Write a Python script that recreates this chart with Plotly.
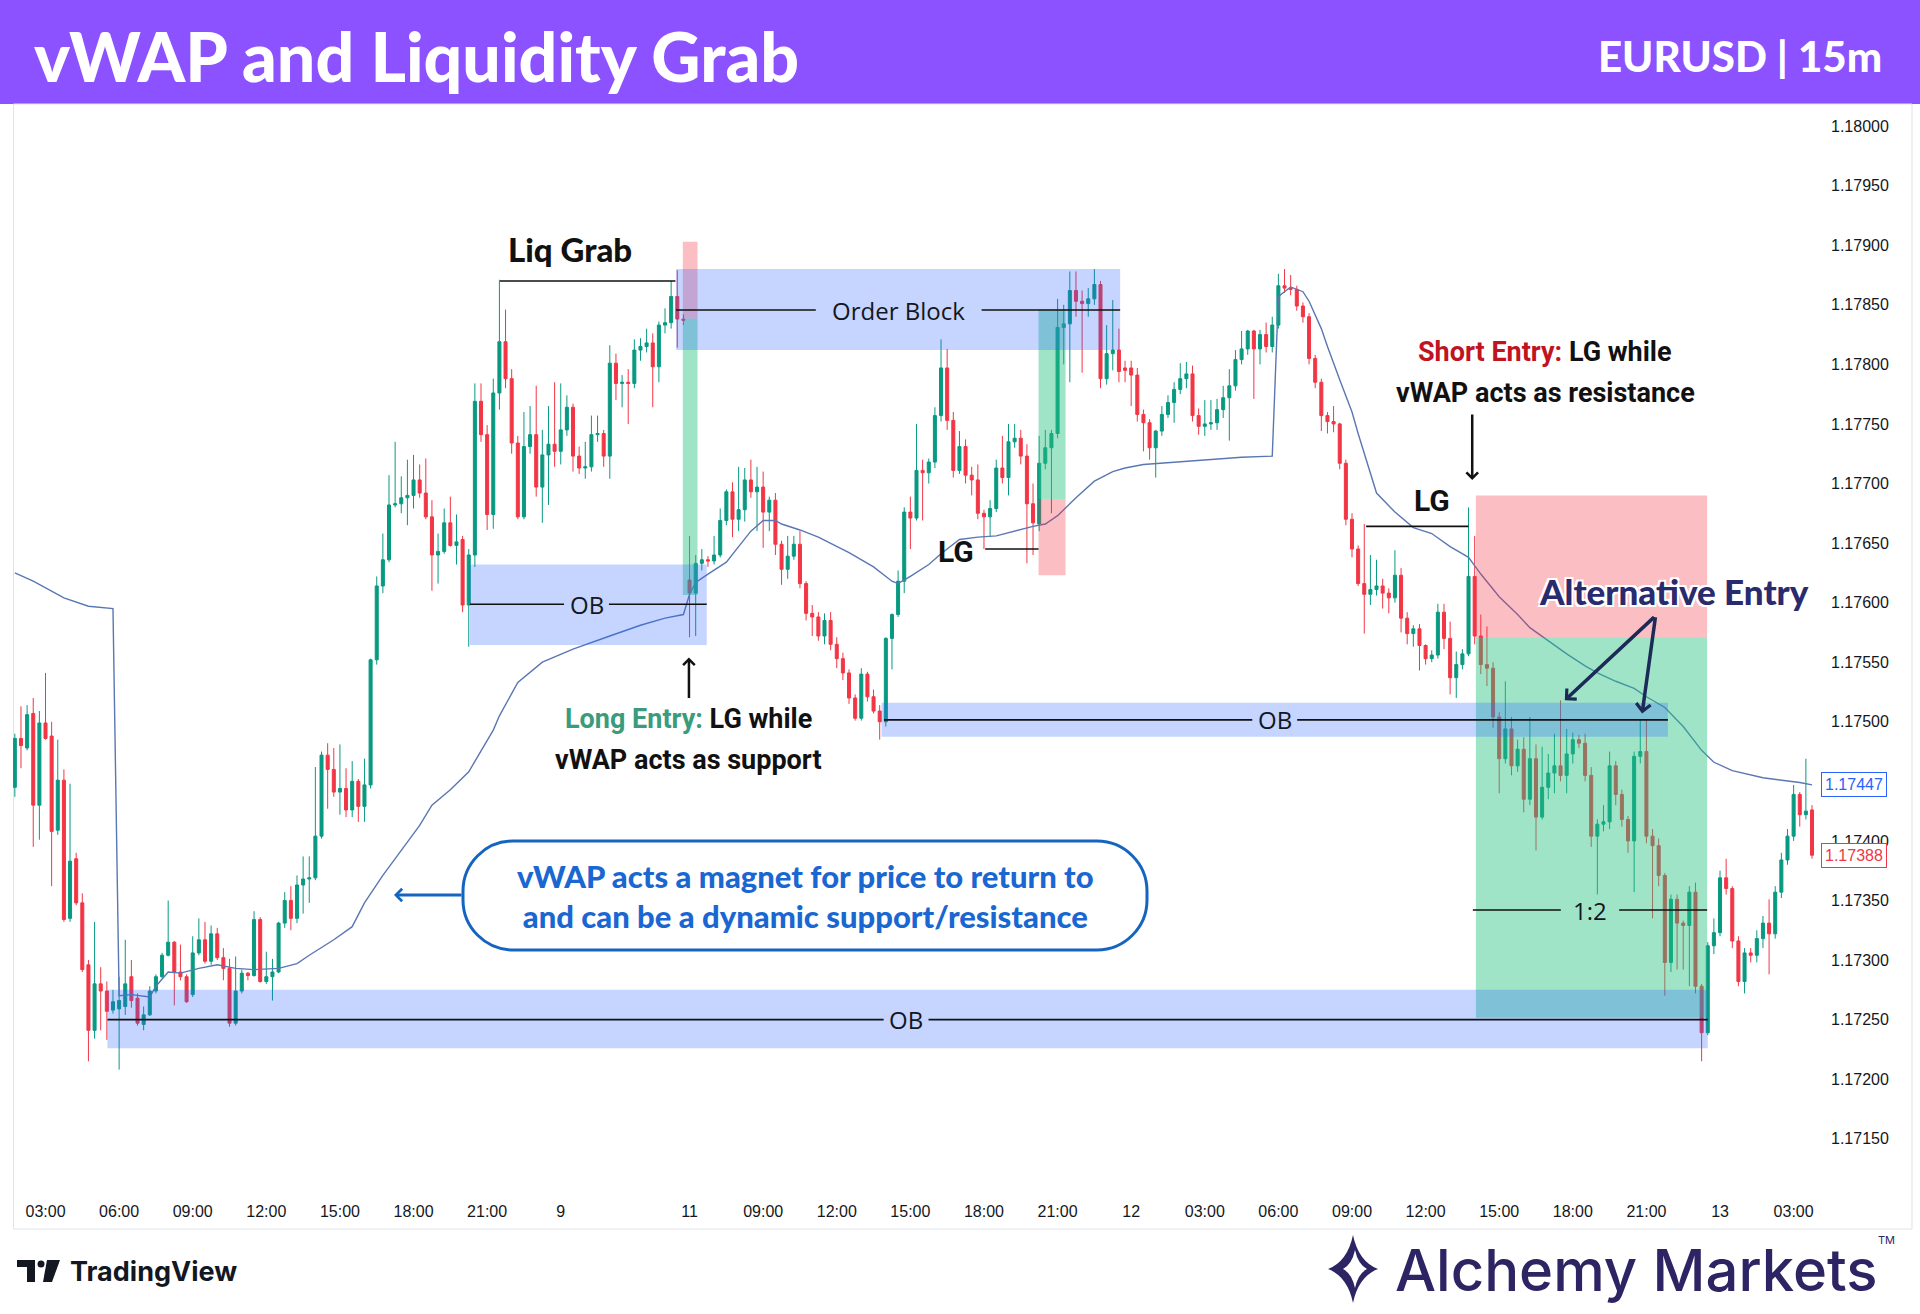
import plotly.graph_objects as go

# ---------------------------------------------------------------- data
# x = index of the 15-minute bar (0 = first "03:00" bar)
bars = list(range(-5, 289))

open_ = [
    1.17445, 1.17486, 1.17478, 1.17507, 1.17430, 1.17499, 1.17488, 1.17409, 1.17451, 1.17335,
    1.17385, 1.17348, 1.17296, 1.17241, 1.17280, 1.17274, 1.17258, 1.17259, 1.17261, 1.17286,
    1.17268, 1.17246, 1.17254, 1.17274, 1.17286, 1.17304, 1.17315, 1.17290, 1.17286, 1.17271,
    1.17306, 1.17317, 1.17299, 1.17322, 1.17302, 1.17293, 1.17247, 1.17274, 1.17289, 1.17287,
    1.17334, 1.17282, 1.17286, 1.17290, 1.17331, 1.17350, 1.17335, 1.17363, 1.17368, 1.17369,
    1.17404, 1.17472, 1.17460, 1.17441, 1.17444, 1.17426, 1.17450, 1.17429, 1.17447, 1.17552,
    1.17614, 1.17636, 1.17682, 1.17683, 1.17688, 1.17690, 1.17703, 1.17692, 1.17672, 1.17640,
    1.17643, 1.17667, 1.17648, 1.17653, 1.17598, 1.17640, 1.17769, 1.17741, 1.17674, 1.17776,
    1.17819, 1.17788, 1.17734, 1.17672, 1.17731, 1.17741, 1.17697, 1.17724, 1.17733, 1.17727,
    1.17745, 1.17764, 1.17723, 1.17713, 1.17714, 1.17741, 1.17742, 1.17723, 1.17801, 1.17784,
    1.17785, 1.17784, 1.17812, 1.17815, 1.17818, 1.17798, 1.17833, 1.17835, 1.17857, 1.17838,
    1.17619, 1.17608, 1.17633, 1.17636, 1.17635, 1.17640, 1.17669, 1.17693, 1.17670, 1.17678,
    1.17703, 1.17693, 1.17697, 1.17676, 1.17686, 1.17649, 1.17628, 1.17639, 1.17649, 1.17616,
    1.17591, 1.17588, 1.17572, 1.17585, 1.17565, 1.17553, 1.17541, 1.17520, 1.17503, 1.17540,
    1.17521, 1.17509, 1.17500, 1.17570, 1.17590, 1.17618, 1.17676, 1.17671, 1.17711, 1.17709,
    1.17718, 1.17757, 1.17797, 1.17753, 1.17711, 1.17731, 1.17707, 1.17703, 1.17675, 1.17672,
    1.17679, 1.17713, 1.17705, 1.17735, 1.17738, 1.17723, 1.17683, 1.17666, 1.17717, 1.17730,
    1.17742, 1.17831, 1.17834, 1.17862, 1.17853, 1.17851, 1.17855, 1.17867, 1.17788, 1.17809,
    1.17812, 1.17797, 1.17797, 1.17791, 1.17758, 1.17751, 1.17730, 1.17744, 1.17758, 1.17768,
    1.17779, 1.17788, 1.17792, 1.17757, 1.17748, 1.17750, 1.17751, 1.17762, 1.17772, 1.17782,
    1.17804, 1.17813, 1.17828, 1.17813, 1.17825, 1.17815, 1.17833, 1.17866, 1.17864, 1.17863,
    1.17849, 1.17840, 1.17805, 1.17785, 1.17757, 1.17752, 1.17750, 1.17717, 1.17670, 1.17645,
    1.17616, 1.17607, 1.17611, 1.17614, 1.17608, 1.17604, 1.17623, 1.17587, 1.17574, 1.17578,
    1.17564, 1.17553, 1.17556, 1.17592, 1.17570, 1.17537, 1.17548, 1.17557, 1.17622, 1.17572,
    1.17548, 1.17545, 1.17504, 1.17469, 1.17494, 1.17463, 1.17477, 1.17435, 1.17469, 1.17420,
    1.17445, 1.17457, 1.17463, 1.17455, 1.17473, 1.17485, 1.17482, 1.17455, 1.17404, 1.17414,
    1.17416, 1.17463, 1.17439, 1.17418, 1.17400, 1.17471, 1.17475, 1.17404, 1.17396, 1.17371,
    1.17298, 1.17351, 1.17331, 1.17329, 1.17357, 1.17278, 1.17239, 1.17312, 1.17323, 1.17369,
    1.17360, 1.17316, 1.17282, 1.17306, 1.17304, 1.17318, 1.17331, 1.17322, 1.17357, 1.17384,
    1.17404, 1.17439, 1.17422, 1.17426,
]

high = [
    1.17490, 1.17513, 1.17514, 1.17520, 1.17509, 1.17541, 1.17500, 1.17485, 1.17460, 1.17448,
    1.17390, 1.17356, 1.17300, 1.17332, 1.17294, 1.17282, 1.17275, 1.17286, 1.17317, 1.17300,
    1.17272, 1.17261, 1.17278, 1.17288, 1.17306, 1.17350, 1.17316, 1.17313, 1.17288, 1.17320,
    1.17335, 1.17332, 1.17329, 1.17327, 1.17310, 1.17301, 1.17303, 1.17292, 1.17290, 1.17341,
    1.17336, 1.17307, 1.17301, 1.17332, 1.17357, 1.17362, 1.17371, 1.17387, 1.17387, 1.17462,
    1.17475, 1.17482, 1.17478, 1.17481, 1.17461, 1.17467, 1.17452, 1.17469, 1.17553, 1.17622,
    1.17658, 1.17707, 1.17735, 1.17706, 1.17720, 1.17724, 1.17716, 1.17721, 1.17686, 1.17658,
    1.17679, 1.17689, 1.17674, 1.17656, 1.17645, 1.17784, 1.17784, 1.17749, 1.17788, 1.17871,
    1.17846, 1.17796, 1.17740, 1.17760, 1.17765, 1.17782, 1.17745, 1.17765, 1.17785, 1.17784,
    1.17774, 1.17767, 1.17731, 1.17735, 1.17757, 1.17757, 1.17745, 1.17816, 1.17809, 1.17791,
    1.17796, 1.17821, 1.17822, 1.17830, 1.17826, 1.17836, 1.17847, 1.17870, 1.17879, 1.17842,
    1.17656, 1.17640, 1.17645, 1.17639, 1.17656, 1.17679, 1.17695, 1.17701, 1.17714, 1.17713,
    1.17720, 1.17714, 1.17710, 1.17689, 1.17692, 1.17652, 1.17656, 1.17656, 1.17660, 1.17618,
    1.17598, 1.17592, 1.17591, 1.17592, 1.17571, 1.17558, 1.17544, 1.17523, 1.17545, 1.17542,
    1.17527, 1.17514, 1.17571, 1.17591, 1.17627, 1.17680, 1.17689, 1.17750, 1.17720, 1.17721,
    1.17764, 1.17821, 1.17813, 1.17760, 1.17744, 1.17737, 1.17714, 1.17716, 1.17678, 1.17686,
    1.17720, 1.17740, 1.17750, 1.17750, 1.17745, 1.17733, 1.17700, 1.17740, 1.17745, 1.17745,
    1.17855, 1.17850, 1.17878, 1.17878, 1.17862, 1.17864, 1.17880, 1.17870, 1.17833, 1.17854,
    1.17830, 1.17803, 1.17803, 1.17797, 1.17762, 1.17754, 1.17745, 1.17765, 1.17774, 1.17785,
    1.17801, 1.17802, 1.17799, 1.17763, 1.17770, 1.17770, 1.17771, 1.17782, 1.17796, 1.17812,
    1.17828, 1.17829, 1.17829, 1.17829, 1.17835, 1.17840, 1.17876, 1.17880, 1.17875, 1.17866,
    1.17852, 1.17843, 1.17808, 1.17788, 1.17760, 1.17765, 1.17751, 1.17720, 1.17675, 1.17648,
    1.17666, 1.17640, 1.17636, 1.17620, 1.17612, 1.17644, 1.17629, 1.17592, 1.17581, 1.17582,
    1.17565, 1.17560, 1.17599, 1.17599, 1.17584, 1.17559, 1.17561, 1.17680, 1.17656, 1.17590,
    1.17580, 1.17550, 1.17508, 1.17534, 1.17504, 1.17485, 1.17487, 1.17504, 1.17481, 1.17479,
    1.17473, 1.17490, 1.17518, 1.17494, 1.17491, 1.17489, 1.17490, 1.17462, 1.17418, 1.17430,
    1.17475, 1.17467, 1.17443, 1.17421, 1.17475, 1.17502, 1.17502, 1.17410, 1.17402, 1.17373,
    1.17355, 1.17355, 1.17333, 1.17362, 1.17365, 1.17280, 1.17315, 1.17335, 1.17375, 1.17385,
    1.17362, 1.17320, 1.17310, 1.17310, 1.17325, 1.17337, 1.17351, 1.17362, 1.17390, 1.17410,
    1.17447, 1.17441, 1.17469, 1.17430,
]

low = [
    1.17437, 1.17461, 1.17476, 1.17395, 1.17401, 1.17485, 1.17362, 1.17405, 1.17332, 1.17332,
    1.17346, 1.17290, 1.17215, 1.17234, 1.17241, 1.17233, 1.17255, 1.17208, 1.17254, 1.17260,
    1.17245, 1.17241, 1.17253, 1.17272, 1.17285, 1.17303, 1.17262, 1.17283, 1.17264, 1.17269,
    1.17304, 1.17297, 1.17296, 1.17300, 1.17283, 1.17244, 1.17245, 1.17272, 1.17283, 1.17286,
    1.17281, 1.17280, 1.17266, 1.17289, 1.17327, 1.17325, 1.17331, 1.17339, 1.17348, 1.17367,
    1.17402, 1.17427, 1.17437, 1.17422, 1.17420, 1.17420, 1.17416, 1.17416, 1.17444, 1.17548,
    1.17608, 1.17634, 1.17680, 1.17675, 1.17665, 1.17679, 1.17688, 1.17670, 1.17610, 1.17616,
    1.17641, 1.17647, 1.17632, 1.17592, 1.17563, 1.17630, 1.17735, 1.17661, 1.17662, 1.17762,
    1.17780, 1.17725, 1.17670, 1.17670, 1.17725, 1.17689, 1.17667, 1.17682, 1.17714, 1.17716,
    1.17740, 1.17710, 1.17708, 1.17704, 1.17710, 1.17735, 1.17714, 1.17704, 1.17770, 1.17764,
    1.17750, 1.17780, 1.17803, 1.17810, 1.17764, 1.17785, 1.17826, 1.17830, 1.17814, 1.17833,
    1.17571, 1.17572, 1.17627, 1.17630, 1.17632, 1.17638, 1.17665, 1.17655, 1.17660, 1.17668,
    1.17688, 1.17660, 1.17646, 1.17660, 1.17640, 1.17615, 1.17620, 1.17636, 1.17612, 1.17585,
    1.17572, 1.17568, 1.17565, 1.17560, 1.17545, 1.17535, 1.17515, 1.17501, 1.17501, 1.17517,
    1.17507, 1.17485, 1.17496, 1.17544, 1.17588, 1.17608, 1.17645, 1.17669, 1.17669, 1.17700,
    1.17713, 1.17752, 1.17745, 1.17705, 1.17708, 1.17700, 1.17690, 1.17670, 1.17645, 1.17656,
    1.17676, 1.17700, 1.17690, 1.17730, 1.17716, 1.17633, 1.17640, 1.17660, 1.17712, 1.17675,
    1.17738, 1.17800, 1.17785, 1.17840, 1.17793, 1.17840, 1.17850, 1.17780, 1.17783, 1.17795,
    1.17785, 1.17785, 1.17765, 1.17752, 1.17727, 1.17720, 1.17705, 1.17740, 1.17755, 1.17751,
    1.17775, 1.17780, 1.17752, 1.17741, 1.17740, 1.17745, 1.17745, 1.17755, 1.17736, 1.17778,
    1.17800, 1.17808, 1.17771, 1.17800, 1.17810, 1.17810, 1.17830, 1.17860, 1.17858, 1.17845,
    1.17835, 1.17800, 1.17780, 1.17744, 1.17742, 1.17743, 1.17712, 1.17665, 1.17638, 1.17614,
    1.17574, 1.17598, 1.17606, 1.17595, 1.17591, 1.17600, 1.17575, 1.17565, 1.17563, 1.17543,
    1.17548, 1.17550, 1.17553, 1.17561, 1.17523, 1.17520, 1.17544, 1.17555, 1.17565, 1.17540,
    1.17530, 1.17495, 1.17440, 1.17465, 1.17455, 1.17458, 1.17424, 1.17430, 1.17392, 1.17418,
    1.17435, 1.17440, 1.17450, 1.17440, 1.17465, 1.17478, 1.17450, 1.17395, 1.17355, 1.17408,
    1.17410, 1.17430, 1.17412, 1.17390, 1.17357, 1.17465, 1.17398, 1.17335, 1.17362, 1.17270,
    1.17290, 1.17292, 1.17292, 1.17278, 1.17272, 1.17215, 1.17237, 1.17305, 1.17320, 1.17355,
    1.17310, 1.17278, 1.17272, 1.17298, 1.17298, 1.17310, 1.17288, 1.17318, 1.17352, 1.17380,
    1.17400, 1.17412, 1.17418, 1.17385,
]

close = [
    1.17486, 1.17480, 1.17506, 1.17430, 1.17499, 1.17486, 1.17408, 1.17451, 1.17334, 1.17383,
    1.17348, 1.17292, 1.17241, 1.17280, 1.17274, 1.17257, 1.17265, 1.17266, 1.17280, 1.17266,
    1.17247, 1.17254, 1.17274, 1.17286, 1.17304, 1.17315, 1.17290, 1.17286, 1.17265, 1.17306,
    1.17317, 1.17299, 1.17322, 1.17302, 1.17293, 1.17247, 1.17274, 1.17289, 1.17287, 1.17334,
    1.17282, 1.17286, 1.17290, 1.17331, 1.17350, 1.17335, 1.17363, 1.17368, 1.17369, 1.17404,
    1.17472, 1.17460, 1.17441, 1.17444, 1.17426, 1.17450, 1.17429, 1.17447, 1.17552, 1.17614,
    1.17636, 1.17682, 1.17683, 1.17688, 1.17690, 1.17703, 1.17692, 1.17672, 1.17640, 1.17643,
    1.17667, 1.17648, 1.17651, 1.17598, 1.17640, 1.17769, 1.17741, 1.17674, 1.17776, 1.17819,
    1.17788, 1.17734, 1.17672, 1.17731, 1.17741, 1.17697, 1.17724, 1.17733, 1.17727, 1.17745,
    1.17764, 1.17723, 1.17713, 1.17714, 1.17741, 1.17742, 1.17723, 1.17801, 1.17784, 1.17785,
    1.17784, 1.17812, 1.17815, 1.17818, 1.17798, 1.17833, 1.17835, 1.17857, 1.17838, 1.17837,
    1.17608, 1.17633, 1.17636, 1.17635, 1.17640, 1.17669, 1.17693, 1.17670, 1.17678, 1.17703,
    1.17693, 1.17697, 1.17676, 1.17686, 1.17649, 1.17628, 1.17639, 1.17649, 1.17616, 1.17591,
    1.17588, 1.17572, 1.17585, 1.17565, 1.17553, 1.17541, 1.17520, 1.17503, 1.17540, 1.17521,
    1.17509, 1.17500, 1.17570, 1.17590, 1.17618, 1.17676, 1.17671, 1.17711, 1.17709, 1.17718,
    1.17757, 1.17797, 1.17753, 1.17711, 1.17731, 1.17707, 1.17703, 1.17675, 1.17672, 1.17679,
    1.17713, 1.17705, 1.17735, 1.17738, 1.17723, 1.17683, 1.17667, 1.17717, 1.17730, 1.17742,
    1.17831, 1.17834, 1.17862, 1.17853, 1.17851, 1.17855, 1.17867, 1.17788, 1.17809, 1.17812,
    1.17794, 1.17795, 1.17791, 1.17758, 1.17751, 1.17730, 1.17744, 1.17758, 1.17768, 1.17779,
    1.17788, 1.17792, 1.17757, 1.17748, 1.17750, 1.17751, 1.17762, 1.17772, 1.17782, 1.17804,
    1.17813, 1.17828, 1.17813, 1.17825, 1.17815, 1.17833, 1.17866, 1.17864, 1.17863, 1.17849,
    1.17840, 1.17805, 1.17785, 1.17757, 1.17752, 1.17750, 1.17717, 1.17670, 1.17645, 1.17616,
    1.17607, 1.17611, 1.17614, 1.17608, 1.17604, 1.17623, 1.17587, 1.17574, 1.17578, 1.17564,
    1.17553, 1.17556, 1.17592, 1.17570, 1.17537, 1.17548, 1.17557, 1.17622, 1.17572, 1.17548,
    1.17545, 1.17504, 1.17469, 1.17494, 1.17463, 1.17477, 1.17435, 1.17469, 1.17420, 1.17445,
    1.17457, 1.17463, 1.17455, 1.17473, 1.17485, 1.17482, 1.17455, 1.17404, 1.17414, 1.17416,
    1.17463, 1.17439, 1.17418, 1.17400, 1.17471, 1.17475, 1.17404, 1.17396, 1.17371, 1.17298,
    1.17351, 1.17331, 1.17329, 1.17357, 1.17278, 1.17239, 1.17312, 1.17323, 1.17369, 1.17360,
    1.17316, 1.17282, 1.17306, 1.17304, 1.17318, 1.17331, 1.17322, 1.17357, 1.17384, 1.17404,
    1.17439, 1.17422, 1.17425, 1.17388,
]

# session-anchored vWAP, read at selected bars
vwap_bar = [-5, -2, 3, 7, 11, 12, 14, 17, 18, 20, 22, 25, 28, 31, 34, 38, 41, 43, 47, 50,
            52, 55, 58, 61, 63, 66, 69, 71, 73, 74, 77, 81, 86, 92, 97, 101, 104, 105, 106, 108,
            111, 113, 115, 117, 119, 120, 123, 126, 131, 135, 138, 139, 141, 144, 146, 149, 152, 155, 158, 161,
            163, 165, 168, 171, 174, 176, 179, 184, 190, 195, 200, 201, 202, 203, 205, 206, 208, 209, 211, 213,
            214, 216, 217, 220, 223, 226, 229, 232, 234, 237, 240, 242, 245, 248, 251, 253, 256, 259, 261, 264,
            267, 270, 272, 275, 280, 286, 288]
vwap_val = [1.17625, 1.17618, 1.17604, 1.17597, 1.17595, 1.17270, 1.17271, 1.17269, 1.17278, 1.17290,
            1.17289, 1.17293, 1.17296, 1.17293, 1.17292, 1.17293, 1.17297, 1.17304, 1.17317, 1.17328,
            1.17348, 1.17371, 1.17392, 1.17413, 1.17430, 1.17443, 1.17458, 1.17476, 1.17493, 1.17505,
            1.17533, 1.17550, 1.17561, 1.17572, 1.17581, 1.17587, 1.17590, 1.17607, 1.17617, 1.17624,
            1.17634, 1.17647, 1.17660, 1.17669, 1.17669, 1.17666, 1.17661, 1.17655, 1.17642, 1.17630,
            1.17618, 1.17616, 1.17622, 1.17632, 1.17641, 1.17653, 1.17655, 1.17656, 1.17660, 1.17664,
            1.17666, 1.17673, 1.17688, 1.17702, 1.17710, 1.17713, 1.17716, 1.17718, 1.17720, 1.17722,
            1.17723, 1.17857, 1.17861, 1.17865, 1.17861, 1.17853, 1.17830, 1.17815, 1.17787, 1.17760,
            1.17742, 1.17709, 1.17692, 1.17676, 1.17663, 1.17658, 1.17647, 1.17638, 1.17624, 1.17605,
            1.17590, 1.17579, 1.17568, 1.17557, 1.17547, 1.17541, 1.17534, 1.17528, 1.17521, 1.17512,
            1.17496, 1.17476, 1.17466, 1.17459, 1.17453, 1.17449, 1.17447]

tick_bars = [0, 12, 24, 36, 48, 60, 72, 84, 105, 117, 129, 141, 153, 165, 177,
             189, 201, 213, 225, 237, 249, 261, 273, 285]
tick_text = ["03:00", "06:00", "09:00", "12:00", "15:00", "18:00", "21:00", "9", "11",
             "09:00", "12:00", "15:00", "18:00", "21:00", "12", "03:00", "06:00", "09:00",
             "12:00", "15:00", "18:00", "21:00", "13", "03:00"]
# 1.17450 sits under the vWAP price marker, so it is not shown on the scale
price_ticks = [1.1715, 1.1720, 1.1725, 1.1730, 1.1735, 1.1740, 1.1750, 1.1755,
               1.1760, 1.1765, 1.1770, 1.1775, 1.1780, 1.1785, 1.1790, 1.1795, 1.1800]
last_vwap = 1.17447
last_close = 1.17388

# drawn zones: (bar from, bar to, price low, price high)
ob_zones = [(69.2, 107.8, 1.175645, 1.17632), (102.8, 175.2, 1.17812, 1.17880),
            (136.3, 264.5, 1.174875, 1.17516), (10.1, 271.0, 1.17226, 1.17275)]
risk_zones = [(103.9, 106.3, 1.178385, 1.17903), (161.9, 166.3, 1.17623, 1.17687),
              (233.2, 270.9, 1.17571, 1.17690)]
reward_zones = [(103.9, 106.3, 1.176065, 1.178385), (161.9, 166.3, 1.17687, 1.17846),
                (233.2, 270.9, 1.172515, 1.17571)]
# drawn levels: (bar from, bar to, price, label, label bar)
levels = [(74.1, 102.7, 1.17870, None, None),
          (102.8, 175.2, 1.178456, "Order Block", 139.1),
          (69.2, 107.8, 1.175986, "OB", 88.2),
          (136.7, 264.5, 1.175016, "OB", 200.4),
          (10.1, 271.0, 1.17250, "OB", 140.3),
          (232.7, 270.9, 1.17342, "1:2", 251.8),
          (153.2, 161.9, 1.17645, None, None),
          (215.3, 232.0, 1.17664, None, None)]

# ---------------------------------------------------------------- layout helpers
W, H = 1920, 1314
ML, MR, MT, MB = 13, 100, 104, 122
PW, PH = W - ML - MR, H - MT - MB
X0, X1 = -5.3, 289.3
BAR_PX = PW / (X1 - X0)


def px(x):
    return (x - ML) / PW


def py(y):
    return (H - MB - y) / PH


def path(points, close_it=True):
    s = "M " + " L ".join(f"{px(x):.5f},{py(y):.5f}" for x, y in points)
    return s + (" Z" if close_it else "")


UP, DOWN = "#089981", "#f23645"
INK = "#131722"
OB_FILL = "rgba(41,98,255,0.27)"
RISK_FILL = "rgba(242,54,69,0.32)"
RW_FILL = "rgba(38,194,129,0.44)"
LABEL_FONT = dict(family="Open Sans", size=24, color=INK)

fig = go.Figure()
fig.add_trace(go.Candlestick(
    x=bars, open=open_, high=high, low=low, close=close,
    increasing=dict(line=dict(color=UP, width=1), fillcolor=UP),
    decreasing=dict(line=dict(color=DOWN, width=1), fillcolor=DOWN),
    whiskerwidth=0, showlegend=False, hoverinfo="skip"))
fig.add_trace(go.Scatter(x=vwap_bar, y=vwap_val, mode="lines",
                         line=dict(color="#5a77b3", width=1.4),
                         showlegend=False, hoverinfo="skip"))

shapes = []
for x0, x1, y0, y1 in reward_zones:
    shapes.append(dict(type="rect", xref="x", yref="y", x0=x0, x1=x1, y0=y0, y1=y1,
                       fillcolor=RW_FILL, line=dict(width=0)))
for x0, x1, y0, y1 in risk_zones:
    shapes.append(dict(type="rect", xref="x", yref="y", x0=x0, x1=x1, y0=y0, y1=y1,
                       fillcolor=RISK_FILL, line=dict(width=0)))
for x0, x1, y0, y1 in ob_zones:
    shapes.append(dict(type="rect", xref="x", yref="y", x0=x0, x1=x1, y0=y0, y1=y1,
                       fillcolor=OB_FILL, line=dict(width=0)))

ann = []
for x0, x1, yv, label, lx in levels:
    segs = [(x0, x1)]
    if label:
        half_gap = (len(label) * 0.56 * LABEL_FONT["size"] / 2 + 9) / BAR_PX
        segs = [(x0, lx - half_gap), (lx + half_gap, x1)]
        ann.append(dict(x=lx, y=yv, xref="x", yref="y", text=label, showarrow=False,
                        font=LABEL_FONT, yanchor="middle"))
    for a, b in segs:
        shapes.append(dict(type="line", xref="x", yref="y", x0=a, x1=b, y0=yv, y1=yv,
                           line=dict(color="#111111", width=1.6)))

# header band
shapes.append(dict(type="rect", xref="paper", yref="paper", x0=px(-2), x1=px(W + 2),
                   y0=py(104), y1=py(-2), fillcolor="#8c52ff", line=dict(width=0), layer="below"))
# chart frame
shapes.append(dict(type="rect", xref="paper", yref="paper", x0=px(13.5), x1=px(1912),
                   y0=py(1229), y1=py(104), line=dict(color="#e0e3eb", width=1),
                   fillcolor="rgba(0,0,0,0)", layer="below"))

# callout pill
cx0, cx1, cy0, cy1, r = 463, 1147, 841, 950, 50
k = 0.55 * r
pill = (f"M {px(cx0 + r):.5f},{py(cy0):.5f} L {px(cx1 - r):.5f},{py(cy0):.5f} "
        f"C {px(cx1 - r + k):.5f},{py(cy0):.5f} {px(cx1):.5f},{py(cy0 + r - k):.5f} {px(cx1):.5f},{py(cy0 + r):.5f} "
        f"L {px(cx1):.5f},{py(cy1 - r):.5f} "
        f"C {px(cx1):.5f},{py(cy1 - r + k):.5f} {px(cx1 - r + k):.5f},{py(cy1):.5f} {px(cx1 - r):.5f},{py(cy1):.5f} "
        f"L {px(cx0 + r):.5f},{py(cy1):.5f} "
        f"C {px(cx0 + r - k):.5f},{py(cy1):.5f} {px(cx0):.5f},{py(cy1 - r + k):.5f} {px(cx0):.5f},{py(cy1 - r):.5f} "
        f"L {px(cx0):.5f},{py(cy0 + r):.5f} "
        f"C {px(cx0):.5f},{py(cy0 + r - k):.5f} {px(cx0 + r - k):.5f},{py(cy0):.5f} {px(cx0 + r):.5f},{py(cy0):.5f} Z")
shapes.append(dict(type="path", xref="paper", yref="paper", path=pill,
                   line=dict(color="#1565c0", width=3), fillcolor="white"))

# TradingView mark
shapes.append(dict(type="path", xref="paper", yref="paper",
                   path=path([(17, 1260), (35, 1260), (35, 1282), (27, 1282), (27, 1267), (17, 1267)]),
                   fillcolor=INK, line=dict(width=0)))
shapes.append(dict(type="circle", xref="paper", yref="paper", x0=px(37.5), x1=px(44.5),
                   y0=py(1267.5), y1=py(1260.5), fillcolor=INK, line=dict(width=0)))
shapes.append(dict(type="path", xref="paper", yref="paper",
                   path=path([(47, 1260), (60, 1260), (52, 1282), (43, 1282)]),
                   fillcolor=INK, line=dict(width=0)))


# Alchemy star mark
def star(cx, cy, rx, ry, pull):
    t, rgt, b, lft = (cx, cy - ry), (cx + rx, cy), (cx, cy + ry), (cx - rx, cy)
    c1 = (cx + rx * pull, cy - ry * pull)
    c2 = (cx + rx * pull, cy + ry * pull)
    c3 = (cx - rx * pull, cy + ry * pull)
    c4 = (cx - rx * pull, cy - ry * pull)
    f = lambda p: f"{px(p[0]):.5f},{py(p[1]):.5f}"
    return (f"M {f(t)} Q {f(c1)} {f(rgt)} Q {f(c2)} {f(b)} "
            f"Q {f(c3)} {f(lft)} Q {f(c4)} {f(t)} Z")


shapes.append(dict(type="path", xref="paper", yref="paper", path=star(1353, 1269, 25, 34, 0.22),
                   fillcolor="#2d2463", line=dict(width=0)))
shapes.append(dict(type="path", xref="paper", yref="paper", path=star(1355, 1269, 12, 19, 0.25),
                   fillcolor="#ffffff", line=dict(width=0)))

ROB = dict(family="Roboto", size=27, color="#111111", weight=700)
CALLOUT = dict(family="Lato", size=31, color="#1a67d2", weight=900)
ann += [
    dict(x=85.5, y=1.17897, xref="x", yref="y", text="Liq Grab", showarrow=False,
         font=dict(family="Lato", size=33, color="#111111", weight=900)),
    dict(x=148.5, y=1.17643, xref="x", yref="y", text="LG", showarrow=False,
         font=dict(family="Roboto", size=30, color="#111111", weight=700)),
    dict(x=226.0, y=1.17686, xref="x", yref="y", text="LG", showarrow=False,
         font=dict(family="Roboto", size=30, color="#111111", weight=700)),
    dict(x=104.9, y=1.17502, xref="x", yref="y", showarrow=False,
         text="<span style='color:#3a9b7d'>Long Entry:</span> LG while", font=ROB),
    dict(x=104.9, y=1.17468, xref="x", yref="y", showarrow=False, text="vWAP acts as support", font=ROB),
    dict(x=244.5, y=1.17810, xref="x", yref="y", showarrow=False,
         text="<span style='color:#c0141f'>Short Entry:</span> LG while", font=ROB),
    dict(x=244.5, y=1.17776, xref="x", yref="y", showarrow=False, text="vWAP acts as resistance", font=ROB),
    dict(x=265.5, y=1.17610, xref="x", yref="y", showarrow=False, text="Alternative Entry",
         font=dict(family="Lato", size=35, color="#2a2a6e", weight=900,
                   shadow="2px 2px 0 #fff, -2px -2px 0 #fff, 2px -2px 0 #fff, -2px 2px 0 #fff")),
    # arrows
    dict(x=104.9, y=1.17554, xref="x", yref="y", ax=0, ay=42, text="", showarrow=True,
         arrowhead=4, arrowsize=0.9, arrowwidth=2.5, arrowcolor="#111111"),
    dict(x=232.6, y=1.17703, xref="x", yref="y", ax=0, ay=-67, text="", showarrow=True,
         arrowhead=4, arrowsize=0.9, arrowwidth=2.5, arrowcolor="#111111"),
    dict(x=247.7, y=1.17518, xref="x", yref="y", axref="x", ayref="y", ax=262.5, ay=1.17589,
         text="", showarrow=True, arrowhead=4, arrowsize=0.8, arrowwidth=3.5, arrowcolor="#1b2a57"),
    dict(x=260.3, y=1.17507, xref="x", yref="y", axref="x", ayref="y", ax=262.5, ay=1.17589,
         text="", showarrow=True, arrowhead=4, arrowsize=0.8, arrowwidth=3.5, arrowcolor="#1b2a57"),
    dict(x=px(394), y=py(895), xref="paper", yref="paper", ax=69, ay=0, text="", showarrow=True,
         arrowhead=4, arrowsize=0.8, arrowwidth=3, arrowcolor="#1565c0"),
    # callout text (two lines as one block)
    dict(x=px(805), y=py(896), xref="paper", yref="paper", xanchor="center", yanchor="middle",
         showarrow=False, align="center",
         text="vWAP acts a magnet for price to return to<br>and can be a dynamic support/resistance",
         font=CALLOUT),
    # price scale markers
    dict(x=1, y=last_vwap, xref="paper", yref="y", xanchor="left", xshift=1, showarrow=False,
         text=f"{last_vwap:.5f}", font=dict(family="Liberation Sans", size=16, color="#2962ff"),
         bgcolor="white", bordercolor="#2962ff", borderwidth=1, borderpad=3),
    dict(x=1, y=last_close, xref="paper", yref="y", xanchor="left", xshift=1, showarrow=False,
         text=f"{last_close:.5f}", font=dict(family="Liberation Sans", size=16, color="#f23645"),
         bgcolor="white", bordercolor="#f23645", borderwidth=1, borderpad=3),
    # header
    dict(x=px(32), y=py(55), xref="paper", yref="paper", xanchor="left", yanchor="middle",
         showarrow=False, text="vWAP and Liquidity Grab",
         font=dict(family="Lato", size=68, color="white", weight=900)),
    dict(x=px(1884), y=py(56), xref="paper", yref="paper", xanchor="right", yanchor="middle",
         showarrow=False, text="EURUSD | 15m",
         font=dict(family="Lato", size=42, color="white", weight=900)),
    # footer
    dict(x=px(68), y=py(1271), xref="paper", yref="paper", xanchor="left", yanchor="middle",
         showarrow=False, text="TradingView",
         font=dict(family="Inter", size=27, color=INK, weight=700)),
    dict(x=px(1393), y=py(1270), xref="paper", yref="paper", xanchor="left", yanchor="middle",
         showarrow=False, text="Alchemy Markets",
         font=dict(family="Inter", size=58, color="#2d2463", weight=500)),
    dict(x=px(1886), y=py(1240), xref="paper", yref="paper", xanchor="center", yanchor="middle",
         showarrow=False, text="TM", font=dict(family="Inter", size=11, color="#2d2463")),
]

fig.update_layout(
    width=W, height=H, margin=dict(l=ML, r=MR, t=MT, b=MB),
    paper_bgcolor="white", plot_bgcolor="white", showlegend=False,
    shapes=shapes, annotations=ann, hovermode=False,
    xaxis=dict(range=[X0, X1], tickvals=tick_bars, ticktext=tick_text,
               showgrid=False, zeroline=False, showline=False, ticks="",
               rangeslider=dict(visible=False), ticklabelstandoff=8,
               tickfont=dict(family="Liberation Sans", size=16, color=INK)),
    yaxis=dict(range=[1.171053, 1.1801855], side="right", tickvals=price_ticks,
               tickformat=".5f", showgrid=False, zeroline=False, showline=False, ticks="",
               ticklabelstandoff=10,
               tickfont=dict(family="Liberation Sans", size=16, color=INK)),
)

fig.write_html("out.html")
